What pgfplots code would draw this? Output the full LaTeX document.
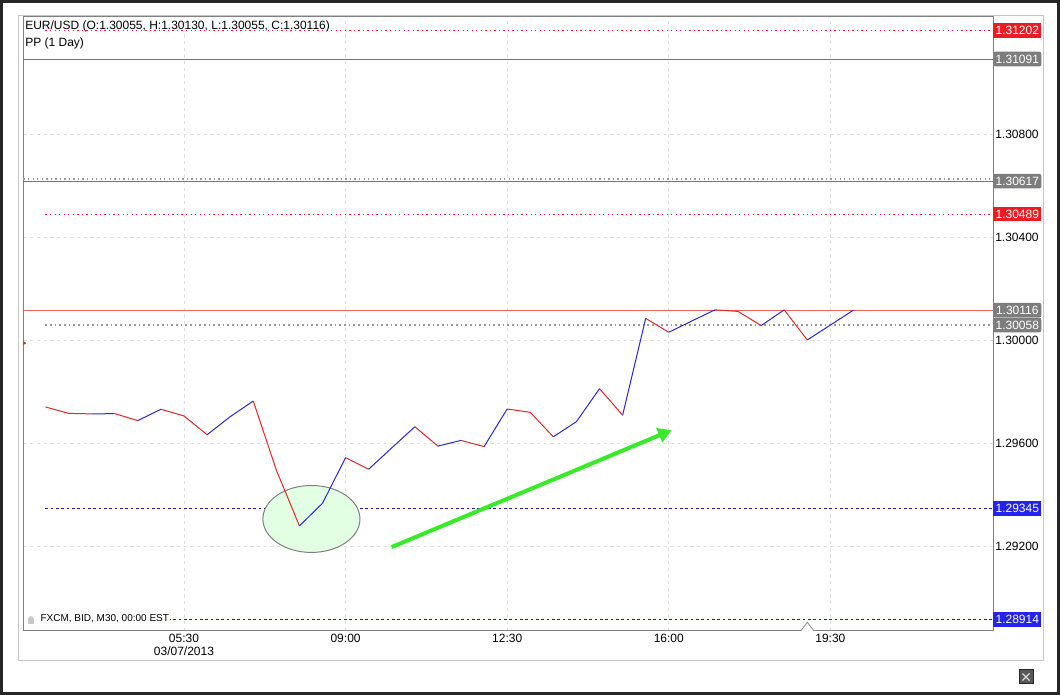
\documentclass[border=0pt]{standalone}
\usepackage{fontspec}
\setmainfont{Liberation Sans}
\usepackage{pgfplots}
\pgfplotsset{compat=1.18}
\usetikzlibrary{arrows.meta}
\definecolor{upblue}{RGB}{40,40,215}
\definecolor{dnred}{RGB}{228,40,40}
\definecolor{lvred}{RGB}{232,30,35}
\definecolor{lvblue}{RGB}{25,25,175}
\definecolor{boxred}{RGB}{237,28,36}
\definecolor{boxgray}{RGB}{125,125,125}
\definecolor{boxblue}{RGB}{35,35,235}
\definecolor{curline}{RGB}{235,100,100}
\definecolor{arrowgreen}{RGB}{55,235,40}
\newcommand{\fs}{\fontsize{9}{10.2}\selectfont}
\begin{document}
\begin{tikzpicture}
\begin{scope}[x=0.75pt,y=0.75pt]
\fill[white] (0,0) rectangle (1060,695);
\useasboundingbox (0,0) rectangle (1060,695);
\draw[black!85, line width=1.9pt] (1.25,1.25) rectangle (1058.75,693.75);
\draw[black!22, line width=0.75pt] (18,34) rectangle (1043,679);
\end{scope}
\begin{axis}[
  at={(17.625pt,48pt)}, anchor=south west,
  scale only axis, width=727.125pt, height=460.5pt,
  xmin=2.024, xmax=23.022, ymin=1.288699, ymax=1.312544,
  axis line style={draw=black!50, line width=0.75pt},
  xtick={5.5,9,12.5,16,19.5},
  xticklabels={{05:30\\03/07/2013},09:00,12:30,16:00,19:30},
  xticklabel style={align=center, font=\fs, inner sep=2pt},
  ytick={1.292,1.296,1.300,1.304,1.308},
  yticklabels={1.29200,1.29600,1.30000,1.30400,1.30800},
  yticklabel pos=right,
  yticklabel style={anchor=west, font=\fs, inner xsep=1.5pt},
  major tick length=0pt, tick style={draw=none},
  grid=major,
  grid style={black!12, line width=0.5pt, dash pattern=on 2.5pt off 2.5pt},
  clip=false,
  unbounded coords=jump,
]
% level lines
\addplot[lvred, line width=0.75pt, dash pattern=on 1pt off 2.4pt] coordinates {(2.5,1.31202) (23.022,1.31202)};
\addplot[black!55, line width=0.75pt] coordinates {(2.024,1.31091) (23.022,1.31091)};
\addplot[black!40, line width=0.9pt, dash pattern=on 1pt off 2.4pt] coordinates {(2.024,1.30625) (23.022,1.30625)};
\addplot[black!55, line width=0.75pt] coordinates {(2.024,1.30617) (23.022,1.30617)};
\addplot[lvred, line width=0.75pt, dash pattern=on 1pt off 2.4pt] coordinates {(2.5,1.30489) (23.022,1.30489)};
\addplot[curline, line width=0.75pt] coordinates {(2.024,1.30116) (23.022,1.30116)};
\addplot[black!40, line width=1.1pt, dash pattern=on 1.1pt off 2.4pt] coordinates {(2.5,1.30058) (23.022,1.30058)};
\addplot[lvblue, line width=0.8pt, dash pattern=on 2pt off 2pt] coordinates {(2.5,1.29345) (23.022,1.29345)};
\addplot[lvblue, line width=0.8pt, dash pattern=on 2pt off 2pt] coordinates {(2.5,1.28914) (23.022,1.28914)};
% ellipse annotation
\draw[black!50, fill=green!11, line width=0.75pt] (axis cs:8.26,1.29305) ellipse [x radius=36.4pt, y radius=25.1pt];
% price line: falling segments red
\addplot[dnred, line width=0.75pt] coordinates {
(2.5,1.29740)(3.0,1.29715)(3.5,1.29713)(3.5,nan)
(4.0,1.29714)(4.5,1.29687)(4.5,nan)
(5.0,1.29731)(5.5,1.29705)(6.0,1.29632)(6.0,nan)
(7.0,1.29763)(7.5,1.29495)(8.0,1.29278)(8.0,nan)
(9.0,1.29543)(9.5,1.29498)(9.5,nan)
(10.5,1.29663)(11.0,1.29588)(11.0,nan)
(11.5,1.29610)(12.0,1.29586)(12.0,nan)
(12.5,1.29732)(13.0,1.29719)(13.5,1.29624)(13.5,nan)
(14.5,1.29811)(15.0,1.29708)(15.0,nan)
(15.5,1.30084)(16.0,1.30030)(16.0,nan)
(17.0,1.30117)(17.5,1.30111)(18.0,1.30056)(18.0,nan)
(18.5,1.30117)(19.0,1.30000)
};
% rising segments blue
\addplot[upblue, line width=0.75pt] coordinates {
(3.5,1.29713)(4.0,1.29714)(4.0,nan)
(4.5,1.29687)(5.0,1.29731)(5.0,nan)
(6.0,1.29632)(6.5,1.29702)(7.0,1.29763)(7.0,nan)
(8.0,1.29278)(8.5,1.29366)(9.0,1.29543)(9.0,nan)
(9.5,1.29498)(10.0,1.29581)(10.5,1.29663)(10.5,nan)
(11.0,1.29588)(11.5,1.29610)(11.5,nan)
(12.0,1.29586)(12.5,1.29732)(12.5,nan)
(13.5,1.29624)(14.0,1.29683)(14.5,1.29811)(14.5,nan)
(15.0,1.29708)(15.5,1.30084)(15.5,nan)
(16.0,1.30030)(16.5,1.30074)(17.0,1.30117)(17.0,nan)
(18.0,1.30056)(18.5,1.30117)(18.5,nan)
(19.0,1.30000)(19.5,1.30058)(20.0,1.30116)
};
% trend arrow
\draw[arrowgreen, line width=3pt, -{Triangle[length=10pt,width=11pt]}] (axis cs:10.0,1.29196) -- (axis cs:16.06,1.29650);
% small markers
\fill[dnred] (axis cs:2.024,1.29988) ++(0pt,1.4pt) -- ++(2.2pt,-1.4pt) -- ++(-2.2pt,-1.4pt) -- cycle;
\draw[black!45, fill=white, line width=0.6pt] (axis cs:19.0,1.288699) ++(-5pt,0pt) -- ++(5pt,6.5pt) -- ++(5pt,-6.5pt);
% price boxes
\begin{scope}[every node/.style={anchor=west, font=\fs, text=white, inner xsep=1.5pt, inner ysep=0pt, minimum height=11pt, minimum width=36pt}]
\node[fill=boxred] at (axis cs:23.022,1.31202) {1.31202};
\node[fill=boxgray, rounded corners=1.5pt] at (axis cs:23.022,1.31091) {1.31091};
\node[fill=boxgray, rounded corners=1.5pt] at (axis cs:23.022,1.30617) {1.30617};
\node[fill=boxred] at (axis cs:23.022,1.30489) {1.30489};
\node[fill=boxgray, rounded corners=1.5pt] at (axis cs:23.022,1.30116) {1.30116};
\node[fill=boxgray, rounded corners=1.5pt] at (axis cs:23.022,1.30058) {1.30058};
\node[fill=boxblue] at (axis cs:23.022,1.29345) {1.29345};
\node[fill=boxblue] at (axis cs:23.022,1.28914) {1.28914};
\end{scope}
\end{axis}
\begin{scope}[x=0.75pt,y=0.75pt]
% header texts
\node[anchor=west, inner sep=0pt, font=\fs] at (25,668.3) {EUR/USD (O:1.30055, H:1.30130, L:1.30055, C:1.30116)};
\node[anchor=west, inner sep=0pt, font=\fs] at (25,651.7) {PP (1 Day)};
% footer text
\node[anchor=west, inner sep=1pt, fill=white, font=\fontsize{7.5}{9}\selectfont] at (39,76) {FXCM, BID, M30, 00:00 EST};
\fill[black!22] (28,71) rectangle (34,77);
\draw[black!22, line width=0.8pt] (29.5,77) arc (180:0:1.5);
% close button
\draw[fill=black!65, draw=black!85, line width=0.75pt] (1019,11) rectangle (1033,25);
\draw[black!15, line width=1pt] (1022.5,14.5) -- (1029.5,21.5) (1022.5,21.5) -- (1029.5,14.5);
\end{scope}
\end{tikzpicture}
\end{document}
